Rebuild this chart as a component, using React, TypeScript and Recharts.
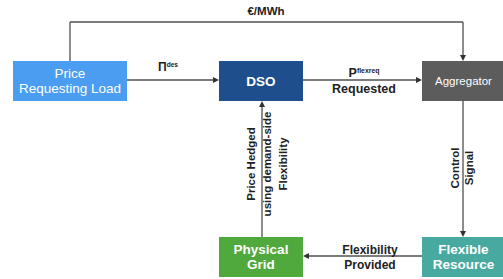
import { ComposedChart, XAxis, YAxis, ReferenceArea, ReferenceLine, ReferenceDot } from "recharts";

// nodes of the flow diagram
const nodeIds = ["load", "dso", "aggregator", "grid", "resource"];
const nodeLabels = [["Price", "Requesting Load"], ["DSO"], ["Aggregator"], ["Physical", "Grid"], ["Flexible", "Resource"]];

// edges: from -> to with their texts
const edgeFrom = ["load", "load", "dso", "grid", "aggregator", "resource"];
const edgeTo = ["aggregator", "dso", "aggregator", "dso", "resource", "grid"];
const edgeLabels = [["€/MWh"], ["Π|des"], ["P|flexreq", "Requested"], ["Price Hedged", "using demand-side", "Flexibility"], ["Control", "Signal"], ["Flexibility", "Provided"]];

// layout (px in a 503x279 canvas)
const W = 503;
const H = 279;
const boxes: Record<string, { x1: number; x2: number; y1: number; y2: number; fill: string; size: number; weight: string }> = {
  load: { x1: 13, x2: 127, y1: 61, y2: 101, fill: "#4a9df0", size: 13.5, weight: "normal" },
  dso: { x1: 219, x2: 303, y1: 61, y2: 101, fill: "#1e4f8c", size: 13.5, weight: "bold" },
  aggregator: { x1: 422, x2: 505, y1: 61, y2: 101, fill: "#5c5c5c", size: 11.5, weight: "normal" },
  grid: { x1: 219, x2: 303, y1: 237, y2: 277, fill: "#50a93c", size: 13.5, weight: "bold" },
  resource: { x1: 422, x2: 505, y1: 237, y2: 277, fill: "#47a9a0", size: 13.5, weight: "bold" },
};

// each edge as a polyline route, the last point gets the arrowhead
const routes = [
  [{ x: 70, y: 61 }, { x: 70, y: 22 }, { x: 463, y: 22 }, { x: 463, y: 61 }],
  [{ x: 127, y: 80 }, { x: 219, y: 80 }],
  [{ x: 303, y: 80 }, { x: 422, y: 80 }],
  [{ x: 262, y: 237 }, { x: 262, y: 101 }],
  [{ x: 463, y: 101 }, { x: 463, y: 237 }],
  [{ x: 422, y: 256 }, { x: 303, y: 256 }],
];
const labelPos = [
  { x: 266, y: 11, rot: 0, size: 11.5, lh: 14 },
  { x: 168, y: 67, rot: 0, size: 12, lh: 14 },
  { x: 364, y: 81, rot: 0, size: 12.5, lh: 16 },
  { x: 267, y: 164, rot: -90, size: 11.5, lh: 16 },
  { x: 462, y: 168, rot: -90, size: 11.5, lh: 14 },
  { x: 370, y: 257, rot: 0, size: 12, lh: 15 },
];

const FONT = "'Liberation Sans', Arial, Helvetica, sans-serif";
const LINE = "#505050";

const arrowShape = (last: boolean) => (p: any) => {
  const { x1, y1, x2, y2 } = p;
  const ang = Math.atan2(y2 - y1, x2 - x1);
  const L = 6;
  const w = 3;
  const bx = x2 - L * Math.cos(ang);
  const by = y2 - L * Math.sin(ang);
  const nx = -Math.sin(ang) * w;
  const ny = Math.cos(ang) * w;
  return (
    <g>
      <line x1={x1} y1={y1} x2={last ? bx : x2} y2={last ? by : y2} stroke={LINE} strokeWidth={1.3} />
      {last && <polygon points={`${x2},${y2} ${bx + nx},${by + ny} ${bx - nx},${by - ny}`} fill="#333" />}
    </g>
  );
};

const boxLabel = (lines: string[], size: number, weight: string) => (props: any) => {
  const vb = props.viewBox;
  const cx = vb.x + vb.width / 2;
  const cy = vb.y + vb.height / 2;
  const lh = size * 1.15;
  const start = cy - ((lines.length - 1) * lh) / 2;
  return (
    <text x={cx} textAnchor="middle" fill="#ffffff" fontFamily={FONT} fontSize={size} fontWeight={weight}>
      {lines.map((l, i) => (
        <tspan key={i} x={cx} y={start + i * lh} dominantBaseline="central">{l}</tspan>
      ))}
    </text>
  );
};

const edgeText = (lines: string[], pos: { rot: number; size: number; lh: number }) => (p: any) => {
  const { cx, cy } = p;
  const start = -((lines.length - 1) * pos.lh) / 2;
  return (
    <g transform={`translate(${cx},${cy}) rotate(${pos.rot})`}>
      <text textAnchor="middle" fill="#222" fontFamily={FONT} fontSize={pos.size} fontWeight="bold">
        {lines.map((l, i) => {
          const [main, sup] = l.split("|");
          return (
            <tspan key={i} x={0} y={start + i * pos.lh} dominantBaseline="central">
              {main}
              {sup && <tspan fontSize={pos.size * 0.55} dy={-3}>{sup}</tspan>}
            </tspan>
          );
        })}
      </text>
    </g>
  );
};

export default function App() {
  return (
    <div style={{ position: "absolute", left: 0, top: 0, width: W, height: H, background: "#fff" }}>
      <ComposedChart width={W} height={H} data={[{ x: 0, y: 0 }]} margin={{ top: 0, right: 0, bottom: 0, left: 0 }}>
        <XAxis type="number" dataKey="x" domain={[0, W]} hide allowDataOverflow />
        <YAxis type="number" dataKey="y" domain={[0, H]} reversed hide allowDataOverflow width={0} />
        {routes.map((r, ei) =>
          r.slice(1).map((pt, si) => (
            <ReferenceLine
              key={`e${ei}-${si}`}
              segment={[r[si], pt]}
              ifOverflow="visible"
              shape={arrowShape(si === r.length - 2)}
            />
          ))
        )}
        {nodeIds.map((id, i) => {
          const b = boxes[id];
          return (
            <ReferenceArea
              key={id}
              x1={b.x1}
              x2={b.x2}
              y1={b.y1}
              y2={b.y2}
              fill={b.fill}
              fillOpacity={1}
              stroke="none"
              ifOverflow="visible"
              label={boxLabel(nodeLabels[i], b.size, b.weight)}
            />
          );
        })}
        {edgeLabels.map((lines, i) => (
          <ReferenceDot
            key={`l${edgeFrom[i]}-${edgeTo[i]}`}
            x={labelPos[i].x}
            y={labelPos[i].y}
            r={0}
            ifOverflow="visible"
            shape={edgeText(lines, labelPos[i])}
          />
        ))}
      </ComposedChart>
    </div>
  );
}
